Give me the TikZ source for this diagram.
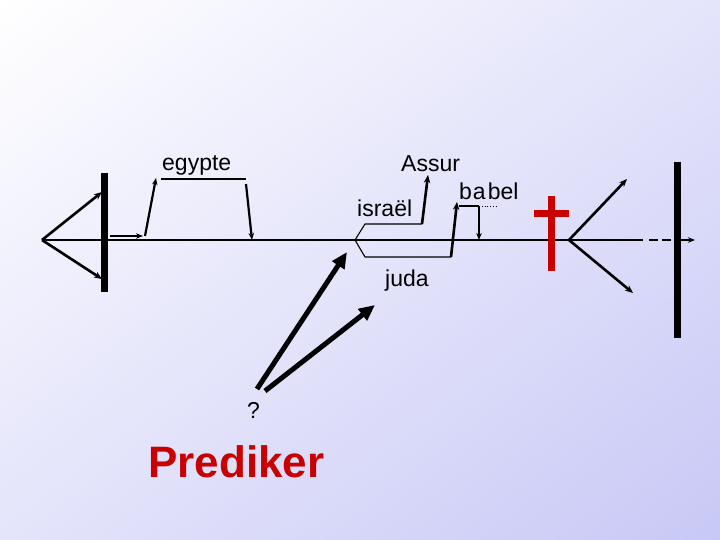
\documentclass[tikz,border=0pt]{standalone}
\usepackage{fontspec}
\setmainfont{Liberation Sans}
\usetikzlibrary{arrows.meta,shadings}
\definecolor{bgmid}{RGB}{228,228,251}
\definecolor{bgend}{RGB}{200,200,246}
\definecolor{crossred}{RGB}{200,0,0}
\begin{document}
\begin{tikzpicture}[x=1pt,y=-1pt,
  thinline/.style={line width=1.1pt},
  midarr/.style={line width=2.6pt,-{Stealth[length=8pt,width=6.5pt]}},
  smallarr/.style={line width=2.2pt,-{Stealth[length=7pt,width=5.5pt]}},
  bigarr/.style={line width=5pt,-{Triangle[length=16pt,width=14pt]}},
  bar/.style={line width=7pt},
  lbl/.style={anchor=base west,inner sep=0pt,font=\fontsize{23}{27}\selectfont}]
\shade[upper left=white,upper right=bgmid,lower left=bgmid,lower right=bgend] (0,0) rectangle (720,540);
\useasboundingbox (0,0) rectangle (720,540);
% coordinates
\coordinate (apex) at (42,240);
\coordinate (lineR) at (643,240);
\coordinate (lbarT) at (104,173);
\coordinate (lbarB) at (104,292);
\coordinate (ltriU) at (102,192);
\coordinate (ltriD) at (102,279);
\coordinate (e1) at (110,236);
\coordinate (e2) at (143,236);
\coordinate (e3) at (145,236);
\coordinate (e4) at (156,178);
\coordinate (u1) at (161,179);
\coordinate (u2) at (246,179);
\coordinate (e5) at (246,184);
\coordinate (e6) at (252,240);
\coordinate (fork) at (355,240);
\coordinate (i1) at (365,224);
\coordinate (i2) at (422,224);
\coordinate (i3) at (428,175);
\coordinate (j1) at (365,257);
\coordinate (j2) at (451,257);
\coordinate (j3) at (457,202);
\coordinate (b1) at (459,206);
\coordinate (b2) at (479,206);
\coordinate (b3) at (496,206);
\coordinate (b4) at (479,240);
\coordinate (rapex) at (569,240);
\coordinate (rU) at (627,179);
\coordinate (rD) at (633,293);
\coordinate (d1) at (649,240);
\coordinate (d2) at (673,240);
\coordinate (d3) at (679,240);
\coordinate (d4) at (695,240);
\coordinate (rbarT) at (677,162);
\coordinate (rbarB) at (677,338);
\coordinate (q1) at (257,389);
\coordinate (q2) at (347,252);
\coordinate (q3) at (265,391);
\coordinate (q4) at (375,305);
% main line
\draw[thinline] (apex) -- (lineR);
% bars
\draw[bar] (lbarT) -- (lbarB);
\draw[bar] (rbarT) -- (rbarB);
% left fan
\draw[midarr] (apex) -- (ltriU);
\draw[midarr] (apex) -- (ltriD);
% egypte
\draw[smallarr] (e1) -- (e2);
\draw[smallarr] (e3) -- (e4);
\draw[thinline] (u1) -- (u2);
\draw[smallarr] (e5) -- (e6);
% israel / juda
\draw[thinline] (i2) -- (i1) -- (fork) -- (j1) -- (j2);
\draw[midarr] (i2) -- (i3);
\draw[midarr] (j2) -- (j3);
\draw[thinline] (b1) -- (b2);
\draw[line width=0.8pt,dotted] (b2) -- (b3);
\draw[smallarr] (b2) -- (b4);
% cross
\fill[crossred] (548,196) rectangle (555,271);
\fill[crossred] (534,210) rectangle (569,217);
% right fan
\draw[midarr] (rapex) -- (rU);
\draw[midarr] (rapex) -- (rD);
\draw[line width=2.5pt,dash pattern=on 9pt off 4pt] (d1) -- (d2);
\draw[smallarr] (d3) -- (d4);
% preacher arrows
\draw[bigarr] (q1) -- (q2);
\draw[bigarr] (q3) -- (q4);
% labels
\node[lbl] (egypte) at (162,171) {egypte};
\node[lbl] (assur) at (401,172) {Assur};
\node[lbl] (israel) at (357,217) {israël};
\node[lbl] (babel) at (459,200) {b\kern1pt a\kern2pt bel};
\node[lbl] (juda) at (385,286) {juda};
\node[lbl] (vraag) at (247,418) {?};
\node[anchor=base west,inner sep=0pt,text=crossred,font=\bfseries\fontsize{44}{50}\selectfont] (prediker) at (148,477) {Prediker};
\end{tikzpicture}
\end{document}
